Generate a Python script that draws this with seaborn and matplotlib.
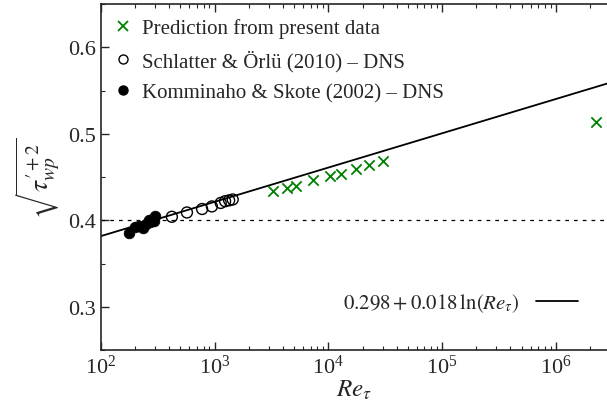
import numpy as np
import pandas as pd
import matplotlib
matplotlib.use("Agg")
import matplotlib.pyplot as plt
import seaborn as sns
from matplotlib.lines import Line2D
from matplotlib.ticker import MultipleLocator, LogLocator, NullFormatter

# data
re_komminaho = [178, 200, 218, 235, 250, 262, 272, 285, 295, 300]
tau_komminaho = [0.385, 0.392, 0.393, 0.391, 0.396, 0.400, 0.398, 0.402, 0.399, 0.405]

re_schlatter = [420, 570, 775, 945, 1130, 1235, 1340, 1440]
tau_schlatter = [0.404, 0.409, 0.413, 0.416, 0.420, 0.422, 0.423, 0.424]

re_present = [3250, 4320, 5180, 7310, 10300, 12880, 17460, 22700, 30100, 2.28e6]
tau_present = [0.434, 0.437, 0.440, 0.4465, 0.451, 0.4535, 0.459, 0.464, 0.469, 0.514]

# fitted log law as drawn
fit_a = 0.3025
fit_b = 0.0172
fit_label = r"$0.298 + 0.018\,\ln(Re_\tau)$"

sns.set_style("ticks")
plt.rcParams["font.family"] = "serif"
plt.rcParams["font.serif"] = ["Liberation Serif", "DejaVu Serif"]
plt.rcParams["mathtext.fontset"] = "stix"

fig = plt.figure(figsize=(6.07, 4.10), dpi=100)
ax = fig.add_axes([0.1664, 0.1439, 0.8336, 0.8439])

xmin, xmax = 1e2, 10 ** 6.451
re_line = np.logspace(np.log10(xmin), np.log10(xmax), 200)
ax.plot(re_line, fit_a + fit_b * np.log(re_line), color="black", lw=1.3, zorder=2)
ax.axhline(0.4, color="black", lw=0.9, ls=(0, (3, 4)), zorder=1)

sns.scatterplot(x=re_present, y=tau_present, marker="x", color="green",
                s=55, linewidth=1.3, ax=ax, zorder=3)
sns.scatterplot(x=re_schlatter, y=tau_schlatter, marker="o", facecolors="none",
                edgecolor="black", s=62, linewidth=1.0, ax=ax, zorder=3)
sns.scatterplot(x=re_komminaho, y=tau_komminaho, marker="o", color="black",
                edgecolor="black", s=58, ax=ax, zorder=3)

ax.set_xscale("log")
ax.set_xlim(xmin, xmax)
ax.set_ylim(0.25, 0.65)
ax.yaxis.set_major_locator(MultipleLocator(0.1))
ax.yaxis.set_minor_locator(MultipleLocator(0.05))
ax.xaxis.set_major_locator(LogLocator(base=10, numticks=10))
ax.xaxis.set_minor_locator(LogLocator(base=10, subs=np.arange(2, 10), numticks=100))
ax.xaxis.set_minor_formatter(NullFormatter())
ax.tick_params(which="both", direction="in", top=True, right=False, labelsize=16)
ax.tick_params(which="major", length=6, width=1.0)
ax.tick_params(which="minor", length=3, width=0.8)
for s in ax.spines.values():
    s.set_linewidth(1.2)
ax.spines["right"].set_visible(False)

ax.set_xlabel(r"$Re_\tau$", fontsize=18, labelpad=0)
ax.set_ylabel(r"$\sqrt{\tau_{wp}^{\prime+2}}$", fontsize=20, labelpad=4)

handles = [
    Line2D([], [], ls="none", marker="x", color="green", markersize=7.5, mew=1.3),
    Line2D([], [], ls="none", marker="o", mfc="none", mec="black", markersize=6.5, mew=1.0),
    Line2D([], [], ls="none", marker="o", color="black", markersize=6.5),
]
labels = ["Prediction from present data",
          "Schlatter & Örlü (2010) – DNS",
          "Komminaho & Skote (2002) – DNS"]
leg = ax.legend(handles, labels, loc="upper left", frameon=False, fontsize=15,
                handlelength=1.0, handletextpad=0.4, labelspacing=0.55,
                borderaxespad=0.3, bbox_to_anchor=(-0.005, 1.0))
ax.add_artist(leg)

ax.legend([Line2D([], [], color="black", lw=1.3)], [fit_label], loc="lower right",
          frameon=False, fontsize=15, markerfirst=False, handlelength=2.0,
          handletextpad=0.8, bbox_to_anchor=(0.98, 0.05))

fig.savefig("out.png", dpi=100)
